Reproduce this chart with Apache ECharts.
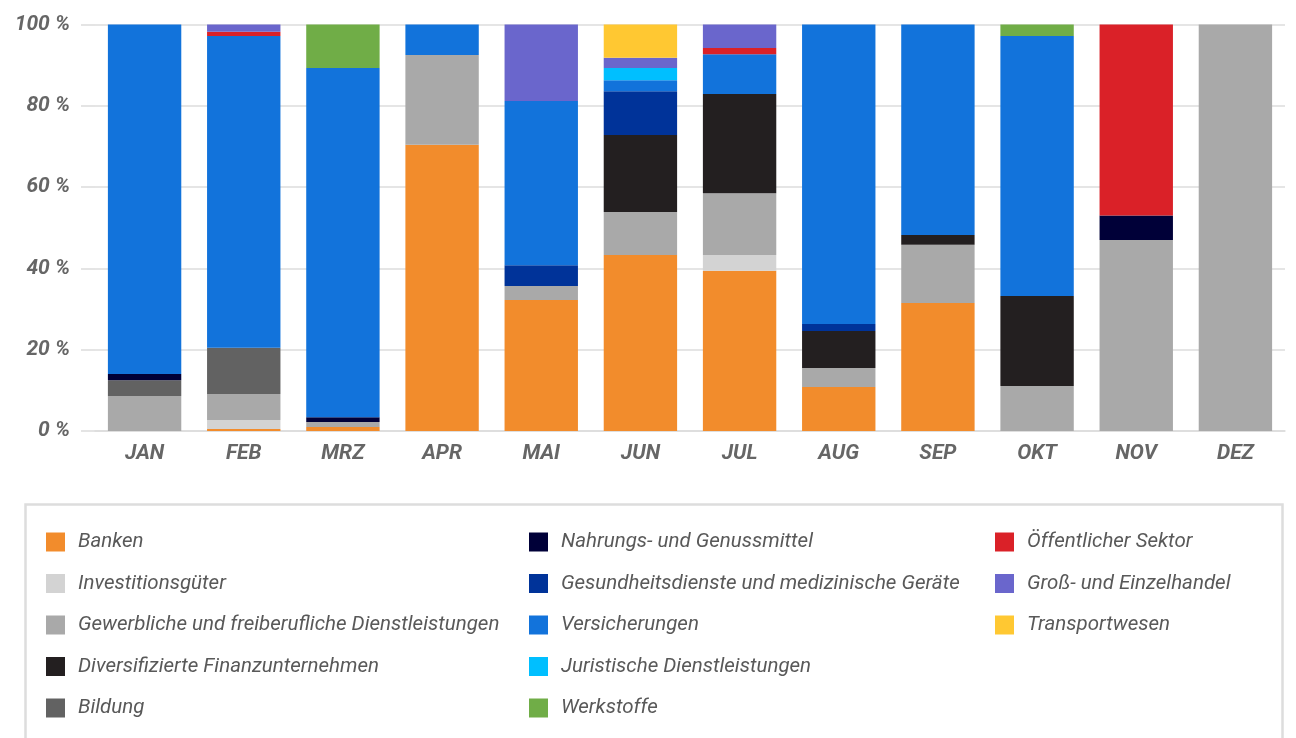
<!DOCTYPE html>
<html>
<head>
<meta charset="utf-8">
<script src="https://cdn.jsdelivr.net/npm/echarts@6/dist/echarts.min.js"></script>
<style>
  html, body { margin: 0; padding: 0; background: #fff; }
  #chart { width: 1296px; height: 738px; }
</style>
</head>
<body>
<div id="chart"></div>
<script>
// Monthly share of each sector (percent of the month's total)
const months = ['JAN', 'FEB', 'MRZ', 'APR', 'MAI', 'JUN', 'JUL', 'AUG', 'SEP', 'OKT', 'NOV', 'DEZ'];
const yTicks = [0, 20, 40, 60, 80, 100];

const banken            = [0, 0.5, 1.0, 70.4, 32.2, 43.3, 39.4, 10.8, 31.5, 0, 0, 0];
const investitionsgueter = [0, 2.2, 0, 0, 0, 0, 3.9, 0, 0, 0, 0, 0];
const gewerbliche       = [8.6, 6.4, 1.2, 22.1, 3.5, 10.6, 15.2, 4.7, 14.3, 11.1, 47.0, 100];
const diversifizierte   = [0, 0, 0, 0, 0, 18.9, 24.4, 9.1, 2.4, 22.1, 0, 0];
const bildung           = [3.9, 11.4, 0, 0, 0, 0, 0, 0, 0, 0, 0, 0];
const nahrungs          = [1.5, 0, 1.2, 0, 0, 0, 0, 0, 0, 0, 6.0, 0];
const gesundheit        = [0, 0, 0, 0, 5.1, 10.8, 0, 1.7, 0, 0, 0, 0];
const versicherungen    = [86.0, 76.7, 85.9, 7.5, 40.4, 2.7, 9.8, 73.7, 51.8, 64.0, 0, 0];
const juristische       = [0, 0, 0, 0, 0, 3.0, 0, 0, 0, 0, 0, 0];
const werkstoffe        = [0, 0, 10.7, 0, 0, 0, 0, 0, 0, 2.8, 0, 0];
const oeffentlich       = [0, 1.0, 0, 0, 0, 0, 1.5, 0, 0, 0, 47.0, 0];
const handel            = [0, 1.8, 0, 0, 18.8, 2.5, 5.8, 0, 0, 0, 0, 0];
const transport         = [0, 0, 0, 0, 0, 8.2, 0, 0, 0, 0, 0, 0];

// Stack order, bottom to top
const sectors = [
  { name: 'Banken', color: '#F28C2C', data: banken },
  { name: 'Investitionsgüter', color: '#D3D3D3', data: investitionsgueter },
  { name: 'Gewerbliche und freiberufliche Dienstleistungen', color: '#A9A9A9', data: gewerbliche },
  { name: 'Diversifizierte Finanzunternehmen', color: '#231F20', data: diversifizierte },
  { name: 'Bildung', color: '#626262', data: bildung },
  { name: 'Nahrungs- und Genussmittel', color: '#000038', data: nahrungs },
  { name: 'Gesundheitsdienste und medizinische Geräte', color: '#003399', data: gesundheit },
  { name: 'Versicherungen', color: '#1273DB', data: versicherungen },
  { name: 'Juristische Dienstleistungen', color: '#00BFFF', data: juristische },
  { name: 'Werkstoffe', color: '#70AD47', data: werkstoffe },
  { name: 'Öffentlicher Sektor', color: '#DA2128', data: oeffentlich },
  { name: 'Groß- und Einzelhandel', color: '#6A66CC', data: handel },
  { name: 'Transportwesen', color: '#FFC832', data: transport }
];

const legendColumns = [
  { left: 46, names: sectors.slice(0, 5).map(s => s.name) },
  { left: 529, names: sectors.slice(5, 10).map(s => s.name) },
  { left: 995, names: sectors.slice(10).map(s => s.name) }
];

const font = 'Roboto, "Liberation Sans", sans-serif';
const axisLabelStyle = {
  color: '#666666',
  fontFamily: font,
  fontSize: 21,
  fontStyle: 'italic',
  fontWeight: 'bold'
};

const chart = echarts.init(document.getElementById('chart'), null, { renderer: 'canvas' });

chart.setOption({
  backgroundColor: '#ffffff',
  animation: false,
  grid: { left: 95, right: 11, top: 24.5, bottom: 307, containLabel: false },
  legend: legendColumns.map(col => ({
    data: col.names,
    orient: 'vertical',
    left: col.left,
    top: 532,
    padding: 0,
    icon: 'rect',
    itemWidth: 19,
    itemHeight: 19,
    itemGap: 21.5,
    selectedMode: false,
    textStyle: {
      color: '#595959',
      fontFamily: font,
      fontSize: 20.5,
      fontStyle: 'italic',
      lineHeight: 19,
      padding: [0, 0, 0, 8]
    }
  })),
  xAxis: {
    type: 'category',
    data: months,
    axisLine: { show: true, lineStyle: { color: '#dcdcdc', width: 1.5 } },
    axisTick: { show: false },
    axisLabel: Object.assign({ margin: 12 }, axisLabelStyle)
  },
  yAxis: {
    type: 'value',
    min: yTicks[0],
    max: yTicks[yTicks.length - 1],
    interval: yTicks[1] - yTicks[0],
    axisLine: { show: false },
    axisTick: { show: true, length: 14, lineStyle: { color: '#dcdcdc', width: 1.5 } },
    splitLine: { show: true, lineStyle: { color: '#dcdcdc', width: 1.5 } },
    axisLabel: Object.assign({ margin: 25, formatter: '{value} %' }, axisLabelStyle)
  },
  graphic: [{
    type: 'rect',
    left: 23,
    top: 502,
    shape: { width: 1257, height: 260 },
    style: { fill: 'none', stroke: '#dddddd', lineWidth: 2.5 },
    silent: true
  }],
  series: sectors.map(s => ({
    name: s.name,
    type: 'bar',
    stack: 'total',
    data: s.data,
    barCategoryGap: '26%',
    itemStyle: { color: s.color },
    emphasis: { disabled: true }
  }))
});
</script>
</body>
</html>
